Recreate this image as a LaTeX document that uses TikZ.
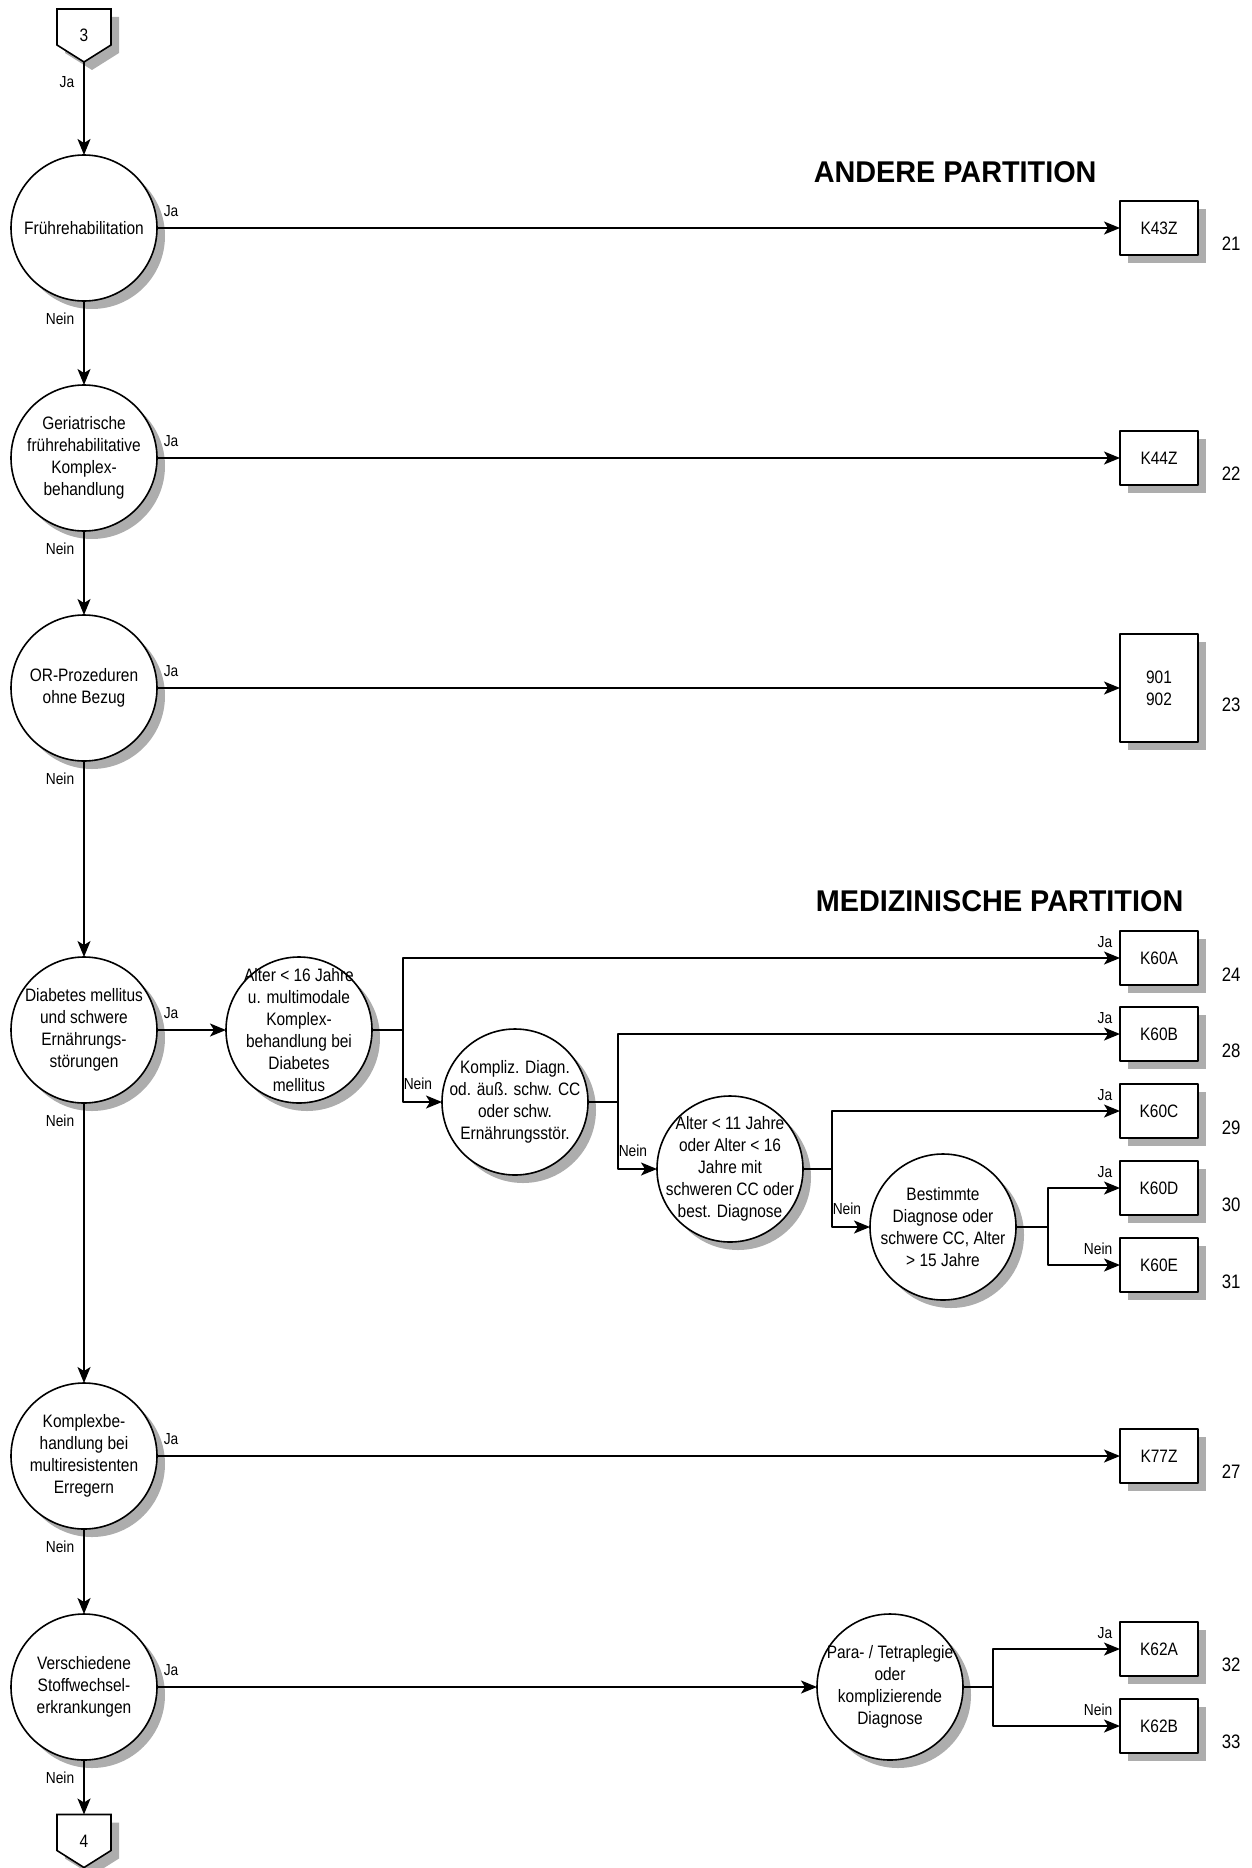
\documentclass[tikz,border=0pt]{standalone}
\usepackage{fontspec}
\setmainfont{Liberation Sans}[FakeStretch=0.86]
\newfontfamily\partfont{Liberation Sans}[FakeStretch=0.96]
\usetikzlibrary{arrows.meta,shadows,backgrounds,positioning}
\newcommand\txtfont{\fontsize{18pt}{22pt}\selectfont}
\newcommand\lblfont{\fontsize{16pt}{19pt}\selectfont}
\newcommand\numfont{\fontsize{19.5pt}{23pt}\selectfont}
\begin{document}
\begin{tikzpicture}[x=1pt,y=-1pt,line join=round,line width=1.6pt,
    >={Stealth[length=16pt,width=13pt,inset=4pt]},
    shadowed/.style={drop shadow={shadow xshift=8pt,shadow yshift=-8pt,fill=black!32,opacity=1}},
    frage/.style={circle,draw,fill=white,minimum size=146pt,inner sep=-12pt,outer sep=0pt,align=center,font=\txtfont,shadowed},
    drg/.style={rectangle,draw,fill=white,minimum width=78pt,minimum height=54pt,inner sep=0pt,outer sep=0pt,align=center,font=\txtfont,shadowed},
    konn/.style={minimum width=54pt,minimum height=53pt,inner sep=0pt,outer sep=0pt,font=\txtfont},
    lbl/.style={font=\lblfont,inner sep=3pt},
    ja/.style={lbl,anchor=south west,xshift=3pt,yshift=8pt},
    nein/.style={lbl,anchor=north east,xshift=-6pt,yshift=-8pt},
    zu/.style={lbl,anchor=south east,xshift=-4pt,yshift=7pt},
    abzw/.style={lbl,anchor=south west,xshift=-3pt,yshift=9pt},
    num/.style={font=\numfont,anchor=west,inner sep=0pt},
    titel/.style={font=\partfont\bfseries\fontsize{30pt}{34pt}\selectfont,anchor=west,inner sep=0pt}]
\useasboundingbox (0,0) rectangle (1251,1868);

% Hauptspalte
\node[konn] (c3) at (84,35.5) {3};
\node[frage] (fr) at (84,228) {Frührehabilitation};
\node[frage] (ger) at (84,458) {Geriatrische\\frührehabilitative\\Komplex-\\behandlung};
\node[frage] (orp) at (84,688) {OR-Prozeduren\\ohne Bezug};
\node[frage] (dia) at (84,1030) {Diabetes mellitus\\und schwere\\Ernährungs-\\störungen};
\node[frage] (kmr) at (84,1456) {Komplexbe-\\handlung bei\\multiresistenten\\Erregern};
\node[frage] (vst) at (84,1687) {Verschiedene\\Stoffwechsel-\\erkrankungen};
\node[konn] (c4) at (84,1841) {4};

% Verzweigungen
\node[frage] (a16) at (299,1030) {Alter < 16 Jahre\\u. multimodale\\Komplex-\\behandlung bei\\Diabetes\\mellitus};
\node[frage] (kd) at (515,1102) {Kompliz. Diagn.\\od. äuß. schw. CC\\oder schw.\\Ernährungsstör.};
\node[frage] (a11) at (730,1169) {Alter < 11 Jahre\\oder Alter < 16\\Jahre mit\\schweren CC oder\\best. Diagnose};
\node[frage] (bd) at (943,1227) {Bestimmte\\Diagnose oder\\schwere CC, Alter\\> 15 Jahre};
\node[frage] (pt) at (890,1687) {Para- / Tetraplegie\\oder\\komplizierende\\Diagnose};

% DRGs
\node[drg] (k43z) at (1159,228) {K43Z};
\node[drg] (k44z) at (1159,458) {K44Z};
\node[drg,minimum height=108pt] (b901) at (1159,688) {901\\902};
\node[drg] (k60a) at (1159,958) {K60A};
\node[drg] (k60b) at (1159,1034) {K60B};
\node[drg] (k60c) at (1159,1111) {K60C};
\node[drg] (k60d) at (1159,1188) {K60D};
\node[drg] (k60e) at (1159,1265) {K60E};
\node[drg] (k77z) at (1159,1456) {K77Z};
\node[drg] (k62a) at (1159,1649) {K62A};
\node[drg] (k62b) at (1159,1726) {K62B};

\node[num] (n21) at ([xshift=23pt,yshift=-16pt]k43z.east) {21};
\node[num] (n22) at ([xshift=23pt,yshift=-16pt]k44z.east) {22};
\node[num] (n23) at ([xshift=23pt,yshift=-17pt]b901.east) {23};
\node[num] (n24) at ([xshift=23pt,yshift=-17pt]k60a.east) {24};
\node[num] (n28) at ([xshift=23pt,yshift=-17pt]k60b.east) {28};
\node[num] (n29) at ([xshift=23pt,yshift=-17pt]k60c.east) {29};
\node[num] (n30) at ([xshift=23pt,yshift=-17pt]k60d.east) {30};
\node[num] (n31) at ([xshift=23pt,yshift=-17pt]k60e.east) {31};
\node[num] (n27) at ([xshift=23pt,yshift=-16pt]k77z.east) {27};
\node[num] (n32) at ([xshift=23pt,yshift=-16pt]k62a.east) {32};
\node[num] (n33) at ([xshift=23pt,yshift=-16pt]k62b.east) {33};

\node[titel] (andere) at (813,172) {ANDERE PARTITION};
\node[titel] (medi) at (815,901) {MEDIZINISCHE PARTITION};

\coordinate (j1) at (403,1030);
\coordinate (j2) at (618,1102);
\coordinate (j3) at (832,1169);
\coordinate (j4) at (1048,1227);
\coordinate (j5) at (993,1687);

% Verbinder
\draw[->] (c3) -- (fr);
\draw[->] (fr) -- (ger);
\draw[->] (ger) -- (orp);
\draw[->] (orp) -- (dia);
\draw[->] (dia) -- (kmr);
\draw[->] (kmr) -- (vst);
\draw[->] (vst) -- (c4);
\draw[->] (fr) -- (k43z);
\draw[->] (ger) -- (k44z);
\draw[->] (orp) -- (b901);
\draw[->] (dia) -- (a16);
\draw[->] (kmr) -- (k77z);
\draw[->] (vst) -- (pt);
\draw (a16) -- (j1);
\draw[->] (j1) |- (k60a);
\draw[->] (j1) |- (kd);
\draw (kd) -- (j2);
\draw[->] (j2) |- (k60b);
\draw[->] (j2) |- (a11);
\draw (a11) -- (j3);
\draw[->] (j3) |- (k60c);
\draw[->] (j3) |- (bd);
\draw (bd) -- (j4);
\draw[->] (j4) |- (k60d);
\draw[->] (j4) |- (k60e);
\draw (pt) -- (j5);
\draw[->] (j5) |- (k62a);
\draw[->] (j5) |- (k62b);

% Beschriftungen
\node[lbl,anchor=north east,xshift=-6pt,yshift=-11pt] (c3-ja) at (c3.south) {Ja};
\node[ja] (fr-ja) at (fr.east) {Ja};
\node[ja] (ger-ja) at (ger.east) {Ja};
\node[ja] (orp-ja) at (orp.east) {Ja};
\node[ja] (dia-ja) at (dia.east) {Ja};
\node[ja] (kmr-ja) at (kmr.east) {Ja};
\node[ja] (vst-ja) at (vst.east) {Ja};
\node[nein] (fr-nein) at (fr.south) {Nein};
\node[nein] (ger-nein) at (ger.south) {Nein};
\node[nein] (orp-nein) at (orp.south) {Nein};
\node[nein] (dia-nein) at (dia.south) {Nein};
\node[nein] (kmr-nein) at (kmr.south) {Nein};
\node[nein] (vst-nein) at (vst.south) {Nein};
\node[zu] (k60a-ja) at (k60a.west) {Ja};
\node[zu] (k60b-ja) at (k60b.west) {Ja};
\node[zu] (k60c-ja) at (k60c.west) {Ja};
\node[zu] (k60d-ja) at (k60d.west) {Ja};
\node[zu] (k60e-nein) at (k60e.west) {Nein};
\node[zu] (k62a-ja) at (k62a.west) {Ja};
\node[zu] (k62b-nein) at (k62b.west) {Nein};
\node[abzw] (j1-nein) at (j1 |- kd) {Nein};
\node[abzw] (j2-nein) at (j2 |- a11) {Nein};
\node[abzw] (j3-nein) at (j3 |- bd) {Nein};

% Seitenverbinder
\begin{scope}[on background layer]
\draw[draw=black,line width=1.6pt,fill=white,shadowed] (c3.north west) -- (c3.north east) -- ([yshift=17pt]c3.south east) -- (c3.south) -- ([yshift=17pt]c3.south west) -- cycle;
\draw[draw=black,line width=1.6pt,fill=white,shadowed] (c4.north west) -- (c4.north east) -- ([yshift=17pt]c4.south east) -- (c4.south) -- ([yshift=17pt]c4.south west) -- cycle;
\end{scope}
\end{tikzpicture}
\end{document}
